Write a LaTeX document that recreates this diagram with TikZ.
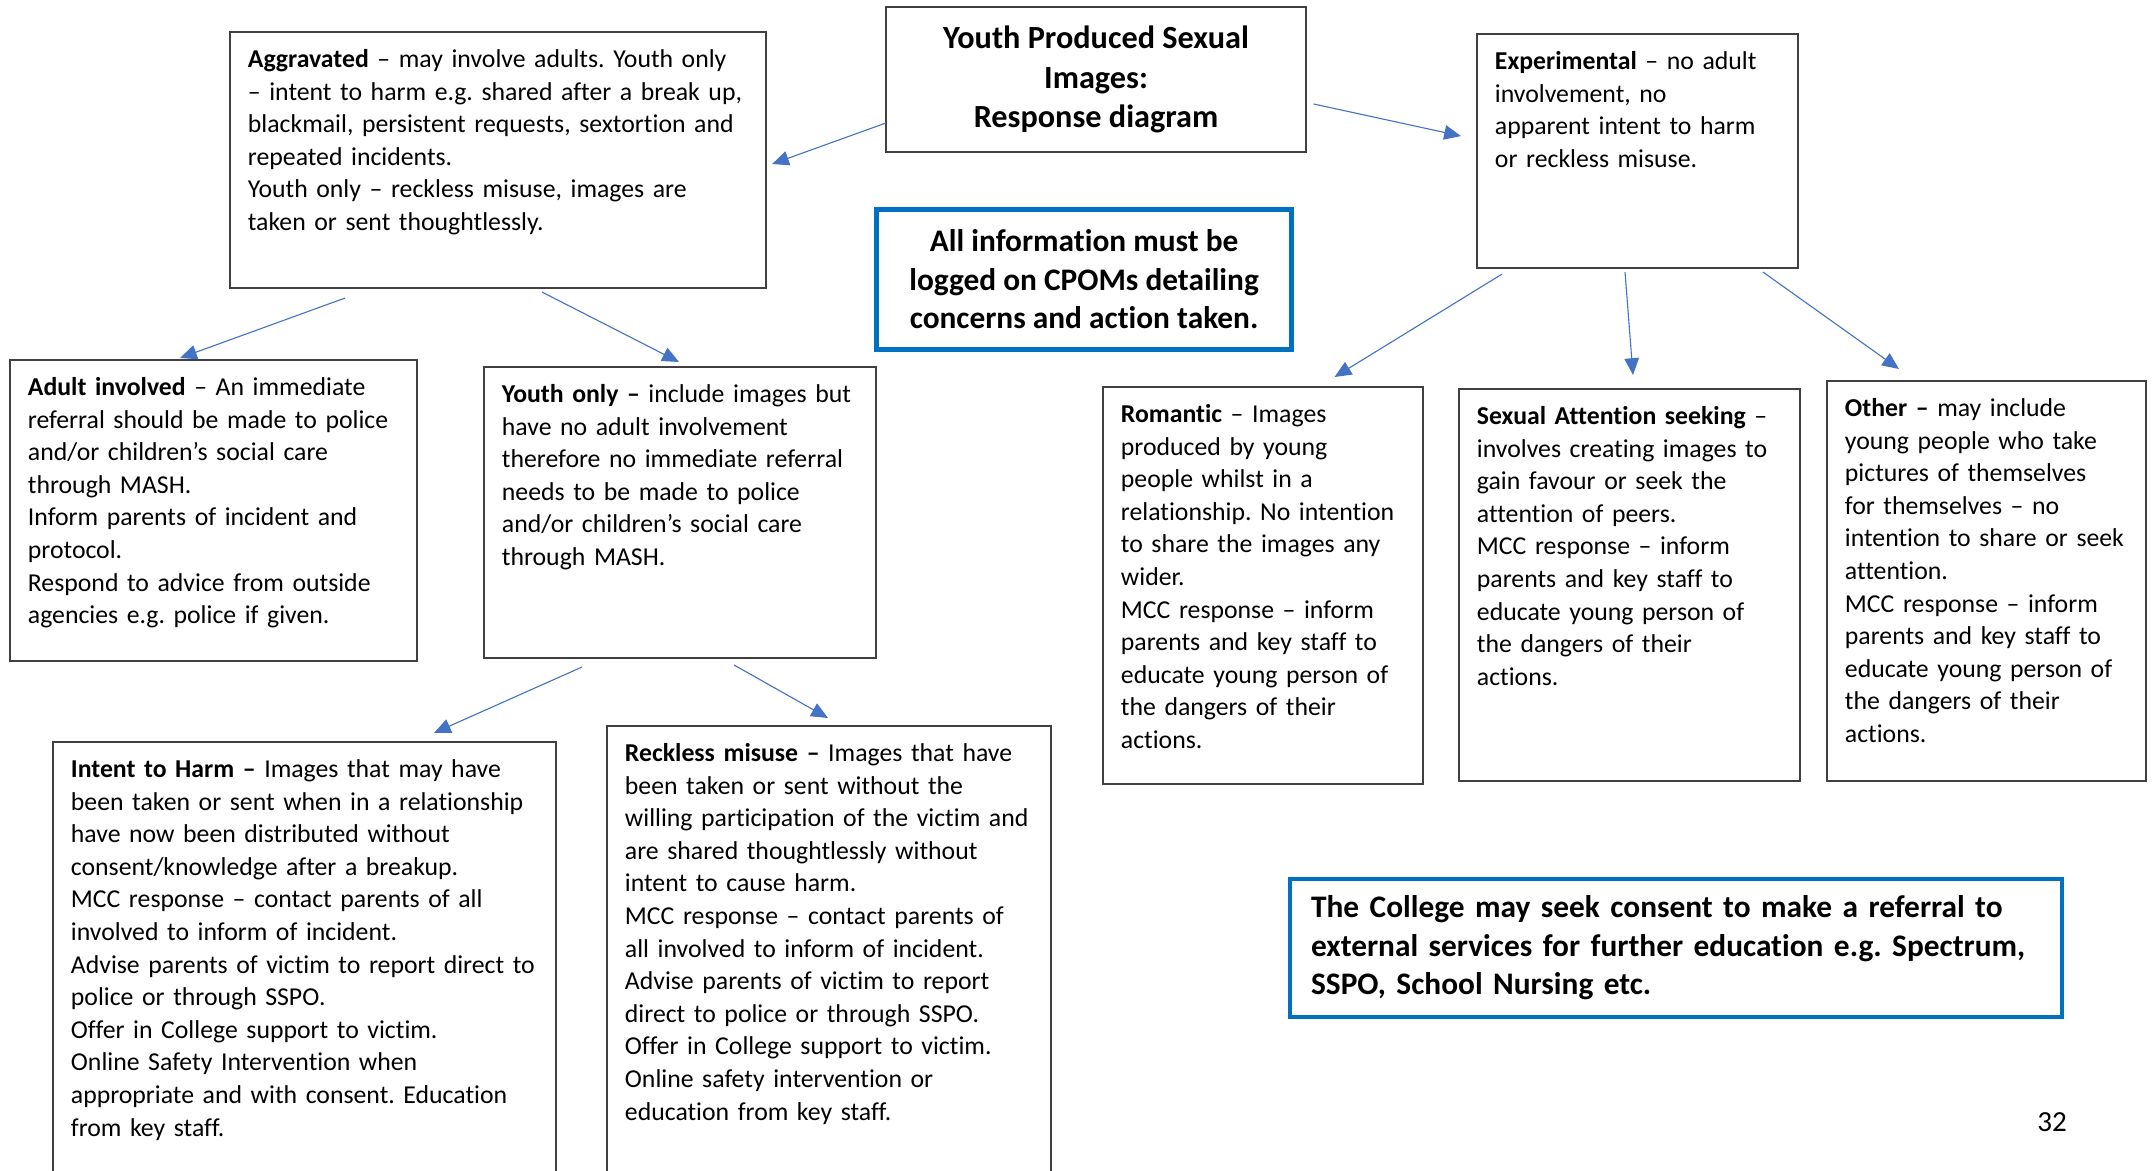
\documentclass[tikz,border=0pt]{standalone}
\usepackage{fontspec}
\setmainfont[Ligatures=NoCommon]{Carlito}
\frenchspacing
\usetikzlibrary{arrows.meta,positioning}
\definecolor{linkblue}{HTML}{4472C4}
\definecolor{frameblue}{HTML}{0070C0}
\tikzset{
  basic/.style = {draw=black!75, line width=0.7pt, outer sep=0pt, rectangle},
  card/.style  = {basic, anchor=north west, align=left, inner xsep=8pt, inner ysep=6.85pt,
                  text height=9pt, font=\fontsize{11.5pt}{14.55pt}\selectfont},
  head/.style  = {basic, anchor=north west, align=center, minimum width=187.5pt, minimum height=64.7pt,
                  font=\bfseries\fontsize{14.4pt}{17.5pt}\selectfont},
  note/.style  = {basic, anchor=north west, draw=frameblue, font=\bfseries\fontsize{14pt}{17.2pt}\selectfont}
}

\begin{document}
\begin{tikzpicture}[
  x=0.4464pt, y=-0.4464pt,
  link/.style={->, draw=linkblue, line width=0.5pt},
  >={Triangle[length=7.5pt,width=6.5pt]}]

\useasboundingbox (0,0) rectangle (2152,1170);

% title and the two notes
\node[head] (head) at (886,7) {Youth Produced Sexual\\Images:\\Response diagram};
\node[note, line width=2.2pt, align=center, minimum width=185.3pt, minimum height=62.5pt] (cpoms) at (876.5,209.5)
  {All information must be\\logged on CPOMs detailing\\concerns and action taken.};
\node[note, line width=1.8pt, align=left, inner xsep=9.4pt, text width=325.8pt, minimum height=61.6pt] (college) at (1290,879)
  {The College may seek consent to make a referral to\\external services for further education e.g. Spectrum,\\SSPO, School Nursing etc.};

% first level
\node[card, text width=223.3pt, text depth=91.6pt] (agg) at (230,32)
  {\textbf{Aggravated} – may involve adults. Youth only\\
   – intent to harm e.g. shared after a break up,\\
   blackmail, persistent requests, sextortion and\\
   repeated incidents.\\
   Youth only – reckless misuse, images are\\
   taken or sent thoughtlessly.};
\node[card, text width=127.3pt, text depth=81.8pt] (exp) at (1477,34)
  {\textbf{Experimental} – no adult\\
   involvement, no\\
   apparent intent to harm\\
   or reckless misuse.};

% second level, left
\node[card, text width=165.7pt, text depth=111.7pt] (adult) at (10,360)
  {\textbf{Adult involved} – An immediate\\
   referral should be made to police\\
   and/or children’s social care\\
   through MASH.\\
   Inform parents of incident and\\
   protocol.\\
   Respond to advice from outside\\
   agencies e.g. police if given.};
\node[card, text width=159pt, text depth=107.2pt] (youth) at (484,367)
  {\textbf{Youth only –} include images but\\
   have no adult involvement\\
   therefore no immediate referral\\
   needs to be made to police\\
   and/or children’s social care\\
   through MASH.};

% second level, right
\node[card, text width=126.8pt, text depth=154.5pt] (romantic) at (1103,387)
  {\textbf{Romantic} – Images\\
   produced by young\\
   people whilst in a\\
   relationship. No intention\\
   to share the images any\\
   wider.\\
   MCC response – inform\\
   parents and key staff to\\
   educate young person of\\
   the dangers of their\\
   actions.};
\node[card, text width=136.2pt, text depth=152.3pt] (attention) at (1459,389)
  {\textbf{Sexual Attention seeking} –\\
   involves creating images to\\
   gain favour or seek the\\
   attention of peers.\\
   MCC response – inform\\
   parents and key staff to\\
   educate young person of\\
   the dangers of their\\
   actions.};
\node[card, text width=126.4pt, text depth=155.9pt] (other) at (1827,381)
  {\textbf{Other –} may include\\
   young people who take\\
   pictures of themselves\\
   for themselves – no\\
   intention to share or seek\\
   attention.\\
   MCC response – inform\\
   parents and key staff to\\
   educate young person of\\
   the dangers of their\\
   actions.};

% third level, runs off the page
\node[card, text width=208.5pt, text depth=172.8pt] (harm) at (53,742)
  {\textbf{Intent to Harm –} Images that may have\\
   been taken or sent when in a relationship\\
   have now been distributed without\\
   consent/knowledge after a breakup.\\
   MCC response – contact parents of all\\
   involved to inform of incident.\\
   Advise parents of victim to report direct to\\
   police or through SSPO.\\
   Offer in College support to victim.\\
   Online Safety Intervention when\\
   appropriate and with consent. Education\\
   from key staff.};
\node[card, text width=182.2pt, text depth=180pt] (reckless) at (607,726)
  {\textbf{Reckless misuse –} Images that have\\
   been taken or sent without the\\
   willing participation of the victim and\\
   are shared thoughtlessly without\\
   intent to cause harm.\\
   MCC response – contact parents of\\
   all involved to inform of incident.\\
   Advise parents of victim to report\\
   direct to police or through SSPO.\\
   Offer in College support to victim.\\
   Online safety intervention or\\
   education from key staff.};

\node[font=\fontsize{13pt}{15pt}\selectfont] (pnum) at (2052,1122) {32};

% arrows, all floating a little off the boxes
\draw[link] ([shift={(0,43.5)}]head.west) -- ([shift={(6,4)}]agg.east);
\draw[link] ([shift={(7.5,24.5)}]head.east) -- ([shift={(-16,-15)}]exp.west);
\draw[link] ([shift={(-153,10)}]agg.south) -- ([shift={(-33.5,-2)}]adult.north);
\draw[link] ([shift={(44,4)}]agg.south) -- ([shift={(-1,-5)}]youth.north);
\draw[link] ([shift={(-98,9)}]youth.south) -- ([shift={(129.5,-9)}]harm.north);
\draw[link] ([shift={(54,7)}]youth.south) -- ([shift={(-1,-8)}]reckless.north);
\draw[link] ([shift={(-135.5,6)}]exp.south) -- ([shift={(71.6,-10)}]romantic.north);
\draw[link] ([shift={(-12.5,4)}]exp.south) -- ([shift={(3.5,-14)}]attention.north);
\draw[link] ([shift={(125.5,4)}]exp.south) -- ([shift={(-87.5,-12)}]other.north);

\end{tikzpicture}
\end{document}
